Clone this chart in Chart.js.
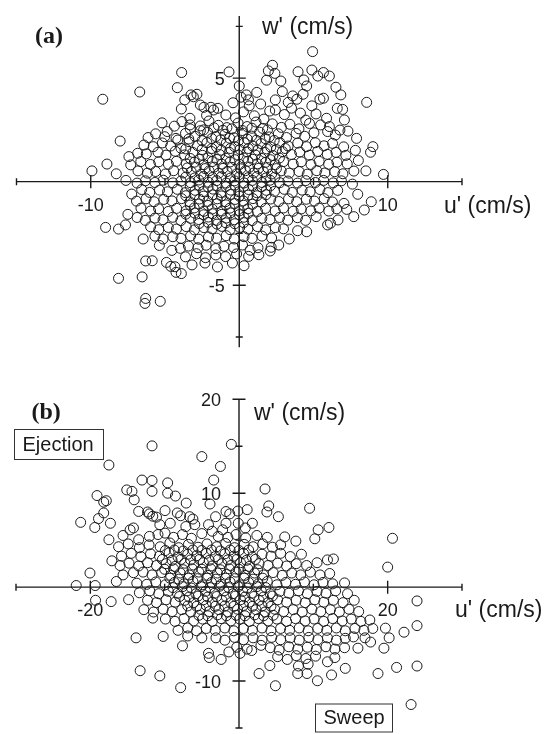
<!DOCTYPE html>
<html>
<head>
<meta charset="utf-8">
<script src="https://cdn.jsdelivr.net/npm/chart.js@4.4.0/dist/chart.umd.min.js"></script>
<style>
    body { margin: 0; background: #fff; }
    canvas { position: absolute; left: 0; }
    #panelA { top: 0; }
    #panelB { top: 360px; }
</style>
</head>
<body>
<canvas id="panelA" width="547" height="360"></canvas>
<canvas id="panelB" width="547" height="374"></canvas>
<script>
'use strict';

// (a) u', w' in cm/s - scattered outer points
const aSparse = [
    [4.94,6.28],[-3.88,5.27],[-0.69,5.3],[0.0,4.62],[-6.7,4.33],[-9.19,3.98],[-4.17,4.54],[2.24,5.62],
    [1.96,5.35],[2.4,5.23],[1.84,4.9],[2.8,4.86],[3.96,5.31],[4.89,5.39],[5.29,5.1],[5.67,5.27],
    [6.07,5.1],[4.35,4.91],[4.54,4.62],[3.6,4.14],[3.88,3.98],[4.89,3.66],[5.43,3.98],[5.67,4.03],
    [2.9,4.35],[2.43,3.95],[2.43,3.46],[1.44,3.75],[0.48,4.19],[0.62,3.95],[0.67,3.66],[6.51,4.56],
    [6.84,4.19],[6.6,3.54],[6.96,3.49],[7.08,2.98],[8.58,3.83],[5.88,3.06],[5.48,2.74],[6.07,2.66],
    [5.95,2.42],[6.47,2.25],[-3.25,4.19],[-2.85,4.22],[-3.09,4.1],[-3.67,3.95],[-3.9,3.51],[-2.62,3.7],
    [-2.38,3.59],[-1.91,3.59],[-1.44,3.54],[-1.73,3.46],[-3.32,3.06],[-3.32,2.74],[-2.62,2.69],[-2.62,2.46],
    [-4.85,2.42],[-4.26,2.09],[-4.14,2.01],[-6.14,2.13],[-5.79,1.69],[-6.42,1.77],[-6.26,1.34],[-6.84,1.37],
    [-7.43,1.21],[-7.31,0.81],[-8.02,1.96],[-8.91,0.85],[-9.92,0.52],[9.0,1.69],[8.84,1.42],[8.53,0.52],
    [9.71,0.35],[7.9,2.09],
    [-9.0,-2.21],[-8.13,-2.29],[-7.66,-2.09],[-7.5,-1.58],[-7.24,-0.6],[-6.47,-2.77],[-6.3,-3.83],[-5.86,-3.82],
    [-8.13,-4.67],[-6.54,-4.6],[-6.3,-5.64],[-6.35,-5.88],[-5.32,-5.78],[-4.9,-3.9],[-4.61,-4.09],[-4.33,-4.11],
    [-3.9,-4.44],[-4.26,-4.38],[-4.54,-3.32],[-0.46,-3.93],[0.32,-4.06],[1.26,-3.19],[2.08,-3.35],[2.15,-3.17],
    [2.66,-3.06],[3.37,-2.77],[3.93,-2.37],[4.54,-2.42],[5.95,-2.09],[6.14,-2.01],[6.65,-1.85],[7.71,-1.69],
    [8.42,-1.37],[8.89,-0.97],[7.24,-1.34],[7.05,-1.05]
];

// (a) the dense core
const aDense = [
    [-0.9,3.22],[-0.25,3.08],[0.28,3.37],[1.02,3.18],[1.66,3.02],[2.05,3.41],[3.04,3.24],[3.52,3.55],
    [4.12,3.31],[4.48,2.97],[5.17,3.27],[3.3,3.83],[4.3,4.22],[1.18,4.31],[-0.42,3.81],[0.12,4.08],[-2.2,3.2],
    [-5.2,2.84],[-4.37,2.68],[-3.86,2.9],[-2.04,2.93],[-1.41,2.72],[-0.83,2.61],[-0.08,2.83],[0.53,2.66],
    [1.13,2.88],[1.58,2.57],[2.23,2.79],[2.84,2.62],[3.41,2.77],[4.02,2.55],[4.73,2.81],[6.78,2.49],
    [-5.63,2.31],[-5.02,2.17],[-3.62,2.33],[-2.98,2.19],[-2.13,2.38],[-1.57,2.18],[-0.96,2.29],[-0.37,2.12],
    [0.24,2.34],[0.83,2.2],[1.37,2.39],[2.02,2.16],[2.63,2.31],[3.18,2.13],[3.83,2.33],[4.41,2.19],[5.03,2.36],[7.32,2.44],
    [-5.18,1.87],[-4.62,1.72],[-3.92,1.61],[-3.38,1.93],[-2.81,1.74],[-2.18,1.88],[-1.53,1.68],[-0.87,1.86],
    [-0.31,1.69],[0.34,1.88],[0.92,1.71],[1.47,1.84],[2.12,1.67],[2.73,1.89],[3.29,1.72],[3.94,1.86],
    [4.53,1.69],[5.12,1.88],[5.71,1.73],[6.28,1.85],[7.03,1.68],
    [-5.47,1.42],[-4.93,1.28],[-4.31,1.47],[-3.68,1.29],[-3.12,1.41],[-2.47,1.27],[-1.88,1.46],[-1.32,1.31],
    [-0.68,1.42],[-0.07,1.28],[0.52,1.44],[1.08,1.29],[1.73,1.41],[2.27,1.26],[2.91,1.45],[3.52,1.31],
    [4.07,1.43],[4.72,1.28],[5.28,1.46],[5.93,1.32],[6.52,1.41],[7.18,1.27],[7.82,1.51],
    [-6.63,0.97],[-5.98,0.83],[-5.42,0.96],[-4.77,0.84],[-4.23,0.98],[-3.57,0.86],[-3.02,0.94],[-2.38,0.82],
    [-1.82,0.97],[-1.17,0.84],[-0.62,0.95],[0.03,0.83],[0.58,0.98],[1.22,0.86],[1.77,0.93],[2.43,0.82],
    [2.98,0.97],[3.63,0.85],[4.18,0.96],[4.83,0.83],[5.38,0.98],[6.02,0.84],[6.58,0.94],[7.27,0.86],[8.02,1.02],
    [-8.28,0.38],[-6.82,0.52],[-6.18,0.41],[-5.63,0.49],[-4.97,0.37],[-4.42,0.53],[-3.78,0.42],[-3.23,0.48],
    [-2.57,0.36],[-2.03,0.52],[-1.38,0.41],[-0.82,0.49],[-0.17,0.38],[0.42,0.53],[0.97,0.42],[1.63,0.48],
    [2.18,0.37],[2.82,0.52],[3.37,0.41],[4.03,0.49],[4.58,0.36],[5.22,0.53],[5.77,0.42],[6.43,0.48],[6.98,0.38],[7.72,0.51],
    [-7.63,0.06],[-6.88,-0.07],[-6.32,0.04],[-5.68,-0.04],[-5.12,0.07],[-4.47,-0.06],[-3.92,0.03],[-3.27,-0.05],
    [-2.72,0.08],[-2.07,-0.03],[-1.52,0.05],[-0.88,-0.07],[-0.32,0.04],[0.33,-0.06],[0.88,0.06],[1.53,-0.04],
    [2.08,0.07],[2.73,-0.05],[3.28,0.03],[3.93,-0.07],[4.48,0.05],[5.13,-0.04],[5.68,0.06],[6.33,-0.06],[6.88,0.04],[7.62,-0.12],
    [-6.57,-0.38],[-6.03,-0.52],[-5.37,-0.41],[-4.83,-0.49],[-4.17,-0.37],[-3.63,-0.53],[-2.97,-0.42],[-2.43,-0.48],
    [-1.77,-0.36],[-1.23,-0.52],[-0.57,-0.41],[-0.03,-0.49],[0.63,-0.38],[1.17,-0.53],[1.83,-0.42],[2.37,-0.47],
    [3.03,-0.37],[3.57,-0.52],[4.23,-0.41],[4.77,-0.49],[5.43,-0.38],[5.97,-0.53],[6.63,-0.42],[7.98,-0.61],
    [-6.92,-0.94],[-6.28,-0.83],[-5.73,-0.97],[-5.08,-0.86],[-4.53,-0.93],[-3.88,-0.82],[-3.33,-0.98],[-2.68,-0.84],
    [-2.13,-0.95],[-1.48,-0.83],[-0.93,-0.97],[-0.28,-0.86],[0.27,-0.93],[0.92,-0.82],[1.47,-0.98],[2.12,-0.84],
    [2.67,-0.96],[3.32,-0.83],[3.87,-0.97],[4.52,-0.85],[5.07,-0.94],[5.72,-0.82],[6.27,-0.98],
    [-6.62,-1.28],[-5.97,-1.42],[-5.43,-1.31],[-4.78,-1.44],[-4.22,-1.29],[-3.57,-1.41],[-3.03,-1.27],[-2.38,-1.43],
    [-1.82,-1.32],[-1.17,-1.42],[-0.63,-1.28],[0.02,-1.41],[0.58,-1.31],[1.23,-1.44],[1.77,-1.29],[2.42,-1.42],
    [2.98,-1.27],[3.63,-1.43],[4.17,-1.32],[4.82,-1.41],[5.38,-1.28],[6.03,-1.42],[6.57,-1.31],
    [-6.88,-1.73],[-6.33,-1.87],[-5.68,-1.76],[-5.13,-1.84],[-4.48,-1.72],[-3.93,-1.88],[-3.28,-1.77],[-2.73,-1.83],
    [-2.08,-1.71],[-1.53,-1.87],[-0.88,-1.76],[-0.33,-1.84],[0.32,-1.72],[0.87,-1.88],[1.52,-1.77],[2.07,-1.83],
    [2.72,-1.73],[3.27,-1.86],[3.92,-1.74],[4.47,-1.87],[5.18,-1.69],
    [-5.97,-2.18],[-5.42,-2.32],[-4.78,-2.21],[-4.23,-2.29],[-3.57,-2.17],[-3.02,-2.33],[-2.38,-2.22],[-1.83,-2.28],
    [-1.17,-2.16],[-0.62,-2.32],[0.03,-2.21],[0.58,-2.29],[1.23,-2.17],[1.78,-2.33],[2.43,-2.22],[2.98,-2.28],
    [-5.68,-2.63],[-5.13,-2.77],[-4.47,-2.66],[-3.92,-2.74],[-3.28,-2.62],[-2.73,-2.78],[-2.07,-2.67],[-1.52,-2.73],
    [-0.88,-2.61],[-0.33,-2.77],[0.32,-2.66],[0.87,-2.74],[1.53,-2.63],[2.18,-2.72],
    [-5.38,-3.08],[-3.97,-3.22],[-3.42,-3.11],[-2.78,-3.19],[-2.23,-3.07],[-1.58,-3.23],[-1.03,-3.12],[-0.38,-3.18],
    [0.22,-3.06],[0.73,-3.31],
    [-3.62,-3.63],[-2.88,-3.48],[-2.27,-3.67],[-1.58,-3.54],[-0.92,-3.62],[-0.18,-3.49],[0.63,-3.61],[1.32,-3.53],
    [-3.18,-4.02],[-2.31,-3.93],[-1.47,-4.12]
];

// (a) extra points where the centre overlaps into a solid mass
const aCentre = [
    [-3.3,2.55],[-2.4,2.5],[-1.7,2.6],[-1.1,2.48],[-0.5,2.55],[0.2,2.47],[0.85,2.58],[1.9,2.5],
    [-3.4,2.06],[-2.5,1.98],[-1.85,2.08],[-1.25,2.02],[-0.65,2.1],[-0.05,1.98],[0.55,2.05],[1.15,2.0],[1.75,2.08],[2.35,1.99],
    [-3.6,1.58],[-2.5,1.55],[-1.85,1.6],[-1.2,1.52],[-0.6,1.6],[0.05,1.55],[0.62,1.6],[1.25,1.52],[1.85,1.58],[2.5,1.55],[3.1,1.6],
    [-3.3,1.12],[-2.7,1.08],[-2.1,1.15],[-1.5,1.07],[-0.9,1.13],[-0.3,1.06],[0.3,1.14],[0.9,1.08],[1.5,1.12],[2.1,1.06],[2.7,1.14],
    [-3.5,0.66],[-2.9,0.7],[-2.3,0.63],[-1.7,0.7],[-1.1,0.64],[-0.5,0.69],[0.1,0.62],[0.7,0.7],[1.3,0.64],[1.9,0.68],[2.5,0.63],
    [-3.6,0.22],[-3.0,0.18],[-2.4,0.25],[-1.8,0.2],[-1.2,0.24],[-0.6,0.17],[0.0,0.23],[0.6,0.19],[1.2,0.25],[1.8,0.18],[2.4,0.22],
    [-3.3,-0.22],[-2.7,-0.18],[-2.1,-0.25],[-1.5,-0.2],[-0.9,-0.24],[-0.3,-0.17],[0.3,-0.23],[0.9,-0.19],[1.5,-0.25],[2.1,-0.2],
    [-3.6,-0.68],[-3.0,-0.63],[-2.4,-0.7],[-1.8,-0.64],[-1.2,-0.69],[-0.6,-0.62],[0.0,-0.7],[0.6,-0.65],[1.2,-0.68],[1.8,-0.63],
    [-3.3,-1.13],[-2.7,-1.08],[-2.1,-1.15],[-1.5,-1.07],[-0.9,-1.12],[-0.3,-1.06],[0.3,-1.14],[0.9,-1.09],
    [-3.6,-1.57],[-3.0,-1.52],[-2.4,-1.6],[-1.8,-1.55],[-1.2,-1.58],[-0.6,-1.51],[0.0,-1.59],[0.6,-1.53],
    [-2.7,-2.02],[-2.1,-1.97],[-1.5,-2.05],[-0.9,-1.99],[-0.3,-2.03],[0.3,-1.98]
];

// (b) scattered outer points
const bSparse = [
    [-11.7,15.04],[-1.03,15.2],[-5.0,13.9],[-17.5,13.0],[-2.5,12.85],[-3.4,11.4],[-13.05,11.4],[-11.7,11.35],
    [-9.6,11.1],[3.5,10.45],[-15.1,10.35],[-14.4,10.2],[-11.7,10.2],[-9.6,10.0],[-8.55,9.7],[-19.1,9.75],
    [-17.85,9.2],[-18.2,9.05],[-14.1,9.3],[-7.1,8.95],[-3.9,8.85],[4.0,8.65],[3.75,8.0],[9.5,8.4],
    [5.3,7.5],[1.1,8.25],[-0.15,8.1],[-21.3,6.9],[-19.4,6.35],[-18.2,7.9],[-18.9,7.3],[-17.3,6.8],
    [-17.5,5.05],[12.1,6.35],[10.65,6.1],[10.2,5.15],[20.65,5.2],[6.15,5.35],[7.65,4.9],
    [-13.5,8.06],[-12.3,8.0],[-12.05,7.8],[-11.1,7.45],[-9.95,8.15],[-8.3,7.9],[-7.85,7.6],[-6.2,7.25],
    [-5.95,6.65],[-6.65,7.5],[-4.1,6.65],[-3.15,7.5],[-1.75,8.05],[-1.25,7.8],[-0.1,6.8],[0.85,6.3],
    [1.8,6.8],[-1.75,6.8],[-2.2,6.1],[-11.6,7.55],[-10.65,6.65],[-9.25,6.8],[-9.95,5.75],[-14.2,6.3],
    [-13.5,5.05],[-12.05,5.4],[-10.9,5.6],[-14.65,6.1],[-7.15,6.45],[-5.0,5.7],[-3.6,5.95],
    [20.0,2.13],[11.9,2.9],[12.7,3.0],[-17.1,2.8],[-20.05,1.5],[-21.9,0.17],[-19.35,0.17],[-19.3,-1.4],
    [-17.2,-1.54],[-14.85,-1.33],[-14.2,1.54],[-13.75,0.42],[14.2,0.45],[23.95,-1.47],[19.7,-4.37],[23.95,-4.1],
    [22.2,-4.8],[20.2,-5.4],[19.5,-6.5],[17.7,-5.85],[16.95,-5.4],[15.4,-5.3],[23.95,-8.4],[21.2,-8.55],
    [18.7,-9.2],[23.15,-12.5],[14.3,-8.65],[12.45,-9.35],[10.55,-9.97],[11.9,-7.95],[9.3,-8.2],[8.0,-8.4],
    [7.9,-9.2],[9.15,-9.2],[4.15,-8.35],[2.7,-9.2],[4.9,-10.5],[-7.85,-10.7],[-10.65,-9.45],[-13.3,-8.9],
    [-13.85,-5.4],[-10.2,-5.25],[-7.6,-6.25],[-6.9,-5.2],[-5.0,-5.4],[-4.1,-7.05],[-4.0,-7.5],[-11.6,-3.3],
    [0.14,-7.05],[-1.36,-6.9],[1.7,-6.75],[2.95,-6.2]
];

// (b) the dense core
const bDense = [
    [-8.8,5.3],[-7.6,5.6],[-6.4,5.2],[-2.8,5.4],[-1.5,5.3],[-0.4,5.6],[0.9,5.25],[2.4,5.5],[3.8,5.3],[-15.6,5.5],
    [-16.2,4.3],[-14.9,4.6],[-13.4,4.2],[-12.1,4.5],[-10.6,4.3],[-9.3,4.7],[-8.1,4.2],[-6.8,4.55],[-5.5,4.25],
    [-4.3,4.6],[-3.0,4.3],[-1.8,4.65],[-0.6,4.2],[0.7,4.55],[1.9,4.3],[3.2,4.6],[4.5,4.25],[5.6,4.5],
    [-15.8,3.3],[-14.5,3.6],[-13.2,3.25],[-11.9,3.55],[-10.7,3.3],[-9.4,3.65],[-8.2,3.2],[-6.9,3.5],[-5.7,3.35],
    [-4.4,3.6],[-3.2,3.25],[-1.9,3.55],[-0.7,3.3],[0.6,3.6],[1.8,3.2],[3.1,3.5],[4.3,3.3],[5.6,3.6],[6.9,3.25],[8.4,3.5],
    [-16.0,2.3],[-14.8,2.55],[-13.5,2.25],[-12.3,2.6],[-11.1,2.3],[-9.8,2.5],[-8.6,2.2],[-7.3,2.55],[-6.1,2.35],
    [-4.8,2.6],[-3.6,2.25],[-2.3,2.5],[-1.1,2.3],[0.2,2.6],[1.4,2.2],[2.7,2.5],[3.9,2.3],[5.2,2.55],[6.4,2.25],
    [7.7,2.5],[9.1,2.3],[10.5,2.6],
    [-15.6,1.3],[-12.9,1.6],[-11.7,1.3],[-10.4,1.55],[-9.2,1.25],[-7.9,1.5],[-6.7,1.3],[-5.4,1.6],[-4.2,1.25],
    [-2.9,1.5],[-1.7,1.35],[-0.4,1.6],[0.8,1.25],[2.1,1.5],[3.3,1.3],[4.6,1.55],[5.8,1.25],[7.1,1.5],[8.3,1.3],
    [9.6,1.6],[10.9,1.3],[12.2,1.45],
    [-16.5,0.6],[-12.4,0.3],[-11.2,0.55],[-9.9,0.25],[-8.7,0.5],[-7.4,0.35],[-6.2,0.6],[-4.9,0.25],[-3.7,0.5],
    [-2.4,0.3],[-1.2,0.55],[0.1,0.25],[1.3,0.5],[2.6,0.35],[3.8,0.6],[5.1,0.25],[6.3,0.5],[7.6,0.3],[8.8,0.55],
    [10.1,0.25],[11.3,0.5],[12.6,0.35],
    [-13.4,-0.6],[-12.0,-0.4],[-10.8,-0.7],[-9.5,-0.45],[-8.3,-0.65],[-7.0,-0.4],[-5.8,-0.7],[-4.5,-0.45],[-3.3,-0.65],
    [-2.0,-0.4],[-0.8,-0.7],[0.5,-0.45],[1.7,-0.65],[3.0,-0.4],[4.2,-0.7],[5.5,-0.45],[6.7,-0.65],[8.0,-0.4],
    [9.2,-0.7],[10.5,-0.45],[11.7,-0.65],[13.0,-0.4],[14.6,-0.7],
    [-12.3,-1.4],[-11.1,-1.65],[-9.8,-1.35],[-8.6,-1.6],[-7.3,-1.4],[-6.1,-1.65],[-4.8,-1.35],[-3.6,-1.6],[-2.3,-1.4],
    [-1.1,-1.65],[0.2,-1.35],[1.4,-1.6],[2.7,-1.4],[3.9,-1.65],[5.2,-1.35],[6.4,-1.6],[7.7,-1.4],[8.9,-1.65],
    [10.2,-1.35],[11.4,-1.6],[12.7,-1.4],[14.0,-1.65],[15.5,-1.4],
    [-12.8,-2.4],[-11.5,-2.65],[-10.2,-2.35],[-9.0,-2.6],[-7.7,-2.4],[-6.5,-2.65],[-5.2,-2.35],[-4.0,-2.6],[-2.7,-2.4],
    [-1.5,-2.65],[-0.2,-2.35],[1.0,-2.6],[2.3,-2.4],[3.5,-2.65],[4.8,-2.35],[6.0,-2.6],[7.3,-2.4],[8.5,-2.65],
    [9.8,-2.35],[11.0,-2.6],[12.3,-2.4],[13.5,-2.65],[14.8,-2.35],[16.1,-2.6],
    [-9.9,-3.4],[-8.6,-3.65],[-7.4,-3.35],[-6.1,-3.6],[-4.9,-3.4],[-3.6,-3.65],[-2.4,-3.35],[-1.1,-3.6],[0.1,-3.4],
    [1.4,-3.65],[2.6,-3.35],[3.9,-3.6],[5.1,-3.4],[6.4,-3.65],[7.6,-3.35],[8.9,-3.6],[10.1,-3.4],[11.4,-3.65],
    [12.6,-3.35],[13.9,-3.6],[15.1,-3.4],[16.4,-3.65],[17.6,-3.5],
    [-8.2,-4.6],[-6.9,-4.35],[-5.7,-4.65],[-4.4,-4.4],[-3.2,-4.6],[-1.9,-4.35],[-0.7,-4.65],[0.6,-4.4],[1.8,-4.6],
    [3.1,-4.35],[4.3,-4.65],[5.6,-4.4],[6.8,-4.6],[8.1,-4.35],[9.3,-4.65],[10.6,-4.4],[11.8,-4.6],[13.1,-4.35],
    [14.3,-4.65],[15.6,-4.4],[16.8,-4.6],[18.0,-4.4],
    [-3.1,-5.4],[-1.9,-5.65],[-0.6,-5.35],[0.6,-5.6],[1.9,-5.4],[3.1,-5.65],[4.4,-5.35],[5.6,-5.6],[6.9,-5.4],
    [8.1,-5.65],[9.4,-5.35],[10.6,-5.6],[11.9,-5.4],[13.1,-5.65],[14.3,-5.45],
    [-0.3,-6.4],[1.1,-6.6],[4.2,-6.45],[5.4,-6.7],[6.7,-6.35],[7.9,-6.6],[9.2,-6.4],[10.4,-6.65],[11.7,-6.35],
    [12.9,-6.6],[14.2,-6.45],[16.0,-6.5],
    [5.2,-7.4],[6.5,-7.7],[7.7,-7.3],[9.0,-7.6],[10.3,-7.35],[12.9,-7.5],[-2.4,-7.7]
];

// (b) extra points in the crowded centre
const bCentre = [
    [-9.9,3.9],[-8.7,3.95],[-7.5,3.85],[-6.2,3.95],[-5.0,3.9],[-3.7,3.95],[-2.5,3.85],[-1.2,3.95],[0.0,3.9],[1.3,3.95],
    [-10.3,2.95],[-9.0,2.85],[-7.8,2.95],[-6.5,2.9],[-5.3,2.95],[-4.0,2.85],[-2.8,2.95],[-1.5,2.9],[-0.3,2.95],[1.0,2.85],[2.2,2.95],
    [-10.0,1.9],[-8.8,1.95],[-7.5,1.85],[-6.3,1.95],[-5.0,1.9],[-3.8,1.95],[-2.5,1.85],[-1.3,1.95],[0.0,1.9],[1.2,1.95],[2.5,1.85],
    [-9.3,0.95],[-8.1,0.85],[-6.8,0.95],[-5.6,0.9],[-4.3,0.95],[-3.1,0.85],[-1.8,0.95],[-0.6,0.9],[0.7,0.95],[1.9,0.85],[3.2,0.95],
    [-8.9,-0.05],[-7.6,0.05],[-6.4,-0.1],[-5.1,0.05],[-3.9,-0.05],[-2.6,0.1],[-1.4,-0.05],[-0.1,0.05],[1.1,-0.1],[2.4,0.05],[3.6,-0.05],
    [-8.0,-1.0],[-6.7,-1.05],[-5.5,-0.95],[-4.2,-1.05],[-3.0,-1.0],[-1.7,-1.05],[-0.5,-0.95],[0.8,-1.05],[2.0,-1.0],[3.3,-1.05],[4.5,-0.95],
    [-6.9,-2.0],[-5.7,-2.05],[-4.4,-1.95],[-3.2,-2.05],[-1.9,-2.0],[-0.7,-2.05],[0.6,-1.95],[1.8,-2.05],[3.1,-2.0],[4.3,-2.05],
    [-5.4,-3.0],[-4.2,-3.05],[-2.9,-2.95],[-1.7,-3.05],[-0.4,-3.0],[0.8,-3.05],[2.1,-2.95],[3.3,-3.05],[4.6,-3.0]
];

// axis extents and ticks (labelled ticks are the major ones)
const aXEnds = [-15, 15], aYEnds = [-8, 8];
const aXMajor = [-10, 10], aXMinor = [-15, -5, 5, 15];
const aYMajor = [-5, 5], aYMinor = [-7.5, -2.5, 2.5, 7.5];
const bXEnds = [-30, 30], bYEnds = [-15, 20];
const bXMajor = [-20, 20], bXMinor = [-30, -10, 10, 30];
const bYMajor = [-10, 10, 20], bYMinor = [-15, -5, 5, 15];

const sans = '"Liberation Sans", Arial, Helvetica, sans-serif';

let crossAxes = {
    id: 'crossAxes',
    afterDatasetsDraw(chart, args, o) {
        let ctx = chart.ctx;
        let xs = chart.scales.x, ys = chart.scales.y;
        let x0 = xs.getPixelForValue(0), y0 = ys.getPixelForValue(0);
        ctx.save();
        ctx.strokeStyle = '#1a1a1a';
        ctx.lineWidth = 1.4;
        ctx.beginPath();
        ctx.moveTo(xs.getPixelForValue(o.xEnds[0]), y0);
        ctx.lineTo(xs.getPixelForValue(o.xEnds[1]), y0);
        ctx.moveTo(x0, ys.getPixelForValue(o.yEnds[0]));
        ctx.lineTo(x0, ys.getPixelForValue(o.yEnds[1]));
        o.xMajor.forEach(v => { let p = xs.getPixelForValue(v); ctx.moveTo(p, y0 - 6.5); ctx.lineTo(p, y0 + 6.5); });
        o.xMinor.forEach(v => { let p = xs.getPixelForValue(v); ctx.moveTo(p, y0 - 3.5); ctx.lineTo(p, y0 + 3.5); });
        o.yMajor.forEach(v => { let p = ys.getPixelForValue(v); ctx.moveTo(x0 - 6.5, p); ctx.lineTo(x0 + 6.5, p); });
        o.yMinor.forEach(v => { let p = ys.getPixelForValue(v); ctx.moveTo(x0 - 3.5, p); ctx.lineTo(x0 + 3.5, p); });
        ctx.stroke();

        ctx.fillStyle = '#1a1a1a';
        ctx.textBaseline = 'middle';
        ctx.font = '18px ' + sans;
        ctx.textAlign = 'center';
        o.xMajor.forEach(v => ctx.fillText(String(v), xs.getPixelForValue(v), y0 + o.xLabelGap));
        ctx.textAlign = 'right';
        o.yMajor.forEach(v => ctx.fillText(String(v), x0 - o.yLabelGap, ys.getPixelForValue(v) + 1.5));

        ctx.textAlign = 'left';
        ctx.font = '23px ' + sans;
        ctx.fillText("u' (cm/s)", o.uTitle[0], o.uTitle[1]);
        ctx.fillText("w' (cm/s)", o.wTitle[0], o.wTitle[1]);

        ctx.font = 'bold 24px "Liberation Serif", "Times New Roman", serif';
        ctx.fillText(o.letter, o.letterAt[0], o.letterAt[1]);

        ctx.font = '20px ' + sans;
        ctx.lineWidth = 1;
        ctx.strokeStyle = '#333';
        o.boxes.forEach(b => {
            ctx.strokeRect(b.x + 0.5, b.y + 0.5, b.w, b.h);
            ctx.fillText(b.text, b.x + 8.5, b.y + b.h / 2 + 1);
        });
        ctx.restore();
    }
};

function toPoints(list) {
    return list.map(p => ({x: p[0], y: p[1]}));
}

function makePanel(id, points, xr, yr, padding, axes) {
    return new Chart(document.getElementById(id).getContext('2d'), {
        type: 'scatter',
        data: {
            datasets: [{
                data: toPoints(points),
                pointRadius: 5,
                pointBorderWidth: 1,
                pointBorderColor: '#1a1a1a',
                pointBackgroundColor: 'rgba(0,0,0,0)',
                clip: false
            }]
        },
        options: {
            responsive: false,
            animation: false,
            events: [],
            layout: {padding: padding},
            scales: {
                x: {type: 'linear', min: xr[0], max: xr[1], display: false},
                y: {type: 'linear', min: yr[0], max: yr[1], display: false}
            },
            plugins: {
                legend: {display: false},
                tooltip: {enabled: false},
                crossAxes: axes
            }
        },
        plugins: [crossAxes]
    });
}

let chartA = makePanel('panelA', aSparse.concat(aDense, aCentre), aXEnds, aYEnds,
    {left: 16.5, right: 85, top: 16, bottom: 12.7},
    {
        xEnds: aXEnds, yEnds: aYEnds,
        xMajor: aXMajor, xMinor: aXMinor, yMajor: aYMajor, yMinor: aYMinor,
        xLabelGap: 24.5, yLabelGap: 14.5,
        uTitle: [444, 207], wTitle: [262, 28],
        letter: '(a)', letterAt: [35, 37],
        boxes: []
    });

let chartB = makePanel('panelB', bSparse.concat(bDense, bCentre), bXEnds, bYEnds,
    {left: 16, right: 85, top: 39.3, bottom: 5.7},
    {
        xEnds: bXEnds, yEnds: bYEnds,
        xMajor: bXMajor, xMinor: bXMinor, yMajor: bYMajor, yMinor: bYMinor,
        xLabelGap: 23.5, yLabelGap: 18,
        uTitle: [455, 250.5], wTitle: [254, 53.7],
        letter: '(b)', letterAt: [31.5, 53],
        boxes: [
            {text: 'Ejection', x: 14, y: 69, w: 89, h: 30},
            {text: 'Sweep', x: 315, y: 343.5, w: 77, h: 28}
        ]
    });
</script>
</body>
</html>
